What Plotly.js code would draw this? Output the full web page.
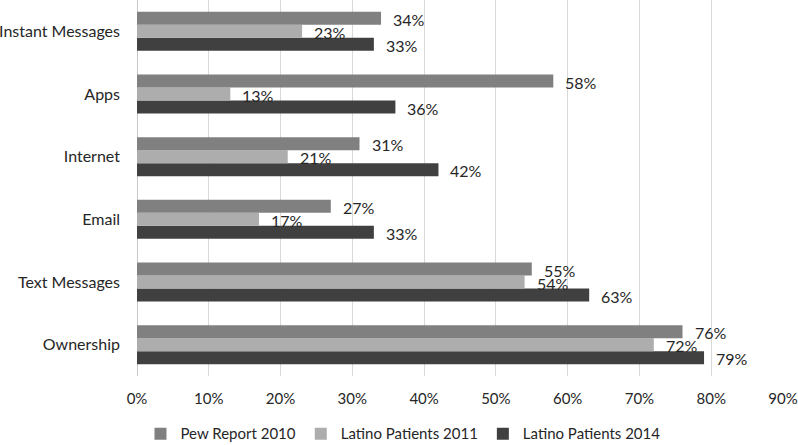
<!DOCTYPE html>
<html>
<head>
<meta charset="utf-8">
<script src="https://cdn.plot.ly/plotly-3.0.1.min.js"></script>
<style>html,body{margin:0;padding:0;background:#fff;}#chart{width:798px;height:445px;}</style>
</head>
<body>
<div id="chart"></div>
<script>
var categories = ['Ownership', 'Text Messages', 'Email', 'Internet', 'Apps', 'Instant Messages'];
var pew2010 = [0.76, 0.55, 0.27, 0.31, 0.58, 0.34];
var latino2011 = [0.72, 0.54, 0.17, 0.21, 0.13, 0.23];
var latino2014 = [0.79, 0.63, 0.33, 0.42, 0.36, 0.33];
var seriesNames = ['Pew Report 2010', 'Latino Patients 2011', 'Latino Patients 2014'];
var tickVals = [0, 0.1, 0.2, 0.3, 0.4, 0.5, 0.6, 0.7, 0.8, 0.9];
var tickText = ['0%', '10%', '20%', '30%', '40%', '50%', '60%', '70%', '80%', '90%'];

var colors = ['#808080', '#adadad', '#404040'];
var FONT = 'Lato, "Open Sans", sans-serif';
var TXT = '#262626';

function barTrace(vals, idx) {
  return {
    type: 'bar', orientation: 'h', name: seriesNames[idx],
    x: vals, y: categories,
    marker: {color: colors[idx], line: {width: 0}},
    hoverinfo: 'skip'
  };
}
// bottom-to-top within group: 2014, 2011, 2010
var data = [barTrace(latino2014, 2), barTrace(latino2011, 1), barTrace(pew2010, 0)];

var annotations = [];
var series = [pew2010, latino2011, latino2014];
var yShifts = [12, -1, -14];
series.forEach(function (vals, s) {
  vals.forEach(function (v, i) {
    annotations.push({
      x: v, y: categories[i], xref: 'x', yref: 'y',
      text: Math.round(v * 100) + '%', showarrow: false,
      xanchor: 'left', yanchor: 'middle', xshift: 10, yshift: yShifts[s],
      font: {family: FONT, size: 16, color: TXT}
    });
  });
});

var layout = {
  width: 798, height: 445,
  margin: {l: 137, r: 14.5, t: 0, b: 69, pad: 0},
  paper_bgcolor: '#fff', plot_bgcolor: '#fff',
  font: {family: FONT, size: 16, color: TXT},
  barmode: 'group', bargap: 0.377, bargroupgap: 0,
  showlegend: true,
  legend: {
    orientation: 'h', traceorder: 'reversed',
    xref: 'container', yref: 'container',
    x: 0.505, xanchor: 'center', y: 0.025, yanchor: 'middle',
    font: {family: FONT, size: 15, color: TXT},
    itemwidth: 30
  },
  xaxis: {
    range: [0, 0.9], tickvals: tickVals, ticktext: tickText,
    showgrid: true, gridcolor: '#d9d9d9', gridwidth: 1,
    zeroline: true, zerolinecolor: '#c8c8c8', zerolinewidth: 1,
    showline: false, ticks: '', ticklabelstandoff: 12,
    tickfont: {family: FONT, size: 15, color: TXT},
    fixedrange: true
  },
  yaxis: {
    type: 'category', categoryorder: 'array', categoryarray: categories,
    range: [-0.5, 5.5],
    showgrid: false, zeroline: false, showline: false, ticks: '',
    ticklabelstandoff: 16,
    tickfont: {family: FONT, size: 16, color: TXT},
    fixedrange: true
  },
  annotations: annotations
};

Plotly.newPlot('chart', data, layout, {displayModeBar: false, staticPlot: true});
</script>
</body>
</html>
